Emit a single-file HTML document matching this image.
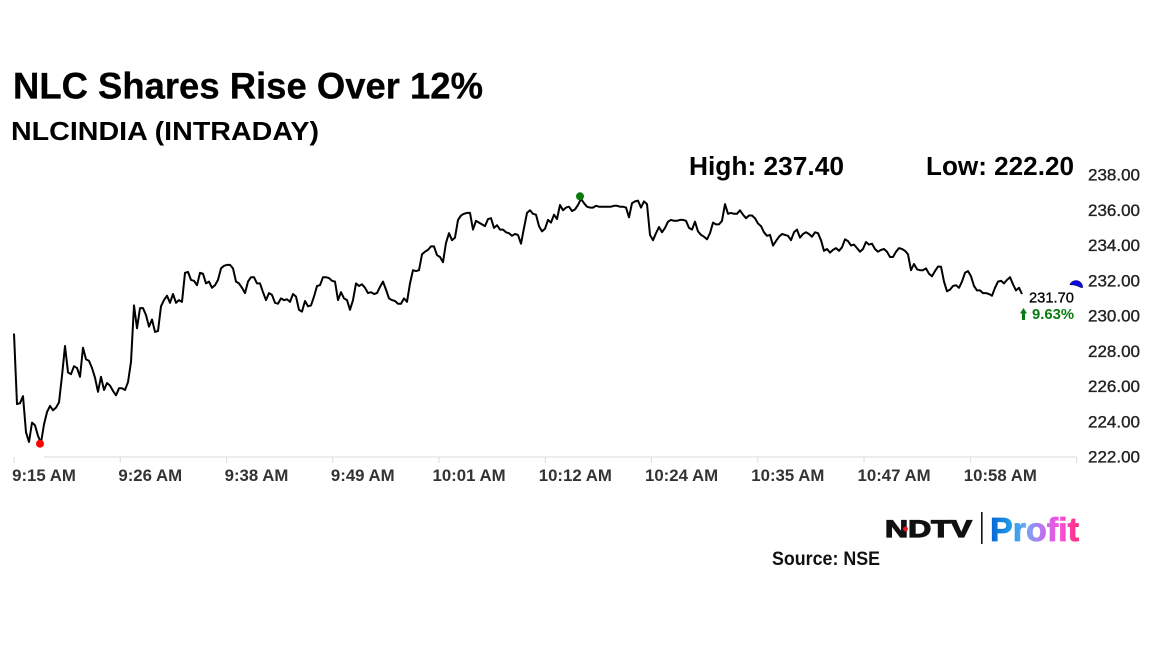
<!DOCTYPE html>
<html lang="en">
<head>
<meta charset="utf-8">
<title>NLC Shares Rise Over 12%</title>
<style>
html,body{margin:0;padding:0;background:#fff;}
body{width:1152px;height:648px;overflow:hidden;}
svg{display:block;font-family:"Liberation Sans",Arial,sans-serif;}
</style>
</head>
<body>
<svg id="chart" xmlns="http://www.w3.org/2000/svg" width="1152" height="648" viewBox="0 0 1152 648">
  <defs>
    <linearGradient id="profitGrad" gradientUnits="userSpaceOnUse" x1="991" y1="0" x2="1079" y2="0">
      <stop offset="0" stop-color="#0a66d6"/>
      <stop offset="0.22" stop-color="#1c9be8"/>
      <stop offset="0.4" stop-color="#6fa8f5"/>
      <stop offset="0.6" stop-color="#c46cf0"/>
      <stop offset="0.8" stop-color="#f84fd8"/>
      <stop offset="1" stop-color="#ff2a78"/>
    </linearGradient>
  </defs>
  <rect x="0" y="0" width="1152" height="648" fill="#fff"/>
  <text x="13" y="98.5" font-size="37.5" font-weight="700" fill="#000" stroke="#000" stroke-width="0.3" textLength="470" lengthAdjust="spacingAndGlyphs">NLC Shares Rise Over 12%</text>
  <text x="11" y="140" font-size="26" font-weight="700" fill="#000" textLength="308" lengthAdjust="spacingAndGlyphs">NLCINDIA (INTRADAY)</text>
  <text x="689" y="175" font-size="25.5" font-weight="700" fill="#000" textLength="155" lengthAdjust="spacingAndGlyphs">High: 237.40</text>
  <text x="926" y="175" font-size="25.5" font-weight="700" fill="#000" textLength="148" lengthAdjust="spacingAndGlyphs">Low: 222.20</text>
  <g id="x-axis"></g>
  <g id="y-axis"></g>
  <g id="series"></g>
  <text x="1074" y="302.5" font-size="14.5" text-anchor="end" fill="#000" stroke="#000" stroke-width="0.3" textLength="45" lengthAdjust="spacingAndGlyphs">231.70</text>
  <text x="1074" y="319" font-size="14.5" font-weight="700" text-anchor="end" fill="#0b7a12" textLength="42" lengthAdjust="spacingAndGlyphs">9.63%</text>
  <path d="M1023.5 308 L1027 313.5 L1025 313.5 L1025 320 L1022 320 L1022 313.5 L1020 313.5 Z" fill="#0b7a12"/>
  <text x="772" y="565" font-size="19" font-weight="700" fill="#111" textLength="108" lengthAdjust="spacingAndGlyphs">Source: NSE</text>
  <g>
    <text x="885" y="537" font-size="24" font-weight="700" fill="#111" stroke="#111" stroke-width="1.2" textLength="87" lengthAdjust="spacingAndGlyphs">NDTV</text>
    <circle cx="905.5" cy="529" r="2.4" fill="#e8141c"/>
    <rect x="981" y="512" width="1.6" height="32" fill="#111"/>
    <text x="990" y="541" font-size="33.5" font-weight="700" fill="url(#profitGrad)" stroke="url(#profitGrad)" stroke-width="0.8" textLength="89" lengthAdjust="spacingAndGlyphs">Profit</text>
  </g>
</svg>
<script>
const timeLabels = ["9:15 AM","9:26 AM","9:38 AM","9:49 AM","10:01 AM","10:12 AM","10:24 AM","10:35 AM","10:47 AM","10:58 AM"];
const priceTicks = [222,224,226,228,230,232,234,236,238];
const currentPrice = 231.75;
const prices = [
229.0,225.0,225.05,225.45,223.4,222.85,223.95,223.8,223.2,222.8,223.85,224.55,224.9,224.65,224.8,225.1,226.6,228.3,226.8,226.7,
227.15,227.05,226.55,228.2,227.55,227.45,227.05,226.5,225.7,226.55,225.8,226.2,226.05,225.75,225.5,225.9,225.9,225.8,226.25,227.4,
230.6,229.3,230.45,230.45,230.05,229.4,229.8,229.1,229.15,230.55,230.9,231.15,230.75,231.25,230.75,230.9,230.8,232.45,232.5,232.05,
232.0,231.75,232.45,232.4,231.85,231.95,231.6,231.75,232.05,232.7,232.85,232.9,232.9,232.7,231.95,231.85,231.6,231.3,231.95,232.2,
232.2,231.85,231.85,231.35,230.9,231.3,231.2,230.75,230.7,231.0,230.9,230.95,230.8,231.25,231.1,230.35,230.25,230.85,230.55,230.6,
231.1,231.7,231.75,232.2,232.2,232.15,232.0,231.95,230.9,231.35,231.0,230.9,230.35,230.9,231.85,231.7,231.8,231.6,231.3,231.35,
231.25,231.3,231.65,231.95,231.5,231.0,230.9,230.85,230.7,230.7,231.0,230.8,231.85,232.6,232.55,232.6,233.5,233.65,233.75,233.95,
233.95,233.45,233.35,233.05,234.15,234.7,234.3,234.45,235.45,235.7,235.8,235.85,235.85,234.9,235.4,235.3,235.2,235.1,235.5,235.55,
235.0,235.15,234.9,234.9,234.75,234.7,234.55,234.65,234.6,234.1,235.0,235.85,236.0,235.8,235.75,235.1,234.8,234.95,235.45,235.3,
235.75,235.5,236.3,236.0,236.15,236.2,235.95,236.05,236.3,236.65,236.4,236.2,236.15,236.15,236.25,236.2,236.2,236.2,236.2,236.2,
236.25,236.25,236.2,236.2,236.15,235.6,236.4,236.5,236.55,236.15,236.5,236.35,234.6,234.3,234.7,235.05,234.75,235.0,235.35,235.45,
235.4,235.4,235.45,235.45,235.4,235.0,234.9,235.35,234.8,234.6,234.5,234.35,234.7,235.3,235.2,235.2,235.4,236.35,235.8,235.85,
235.8,235.8,236.0,235.75,235.55,235.7,235.7,235.55,235.25,235.1,234.75,234.55,234.6,234.0,234.25,234.5,234.65,234.6,234.55,234.3,
234.75,234.9,234.45,234.65,234.75,234.65,234.5,234.75,234.7,234.3,233.7,233.8,233.6,233.75,233.85,233.7,233.9,234.35,234.25,234.0,
234.05,233.85,233.65,233.8,234.2,234.05,234.1,233.8,233.65,233.75,233.8,233.65,233.35,233.35,233.65,233.85,233.8,233.7,233.5,232.6,
232.95,232.65,232.6,232.6,232.7,232.4,232.25,232.55,232.8,232.8,231.95,231.4,231.5,231.7,231.75,231.6,231.95,232.45,232.55,232.25,
231.7,231.45,231.45,231.3,231.3,231.25,231.15,231.6,231.95,232.0,231.85,232.05,232.2,231.8,231.45,231.6,231.25
];

const SVGNS = "http://www.w3.org/2000/svg";
const plotLeft = 14, sampleStepPx = 3, samplesPerTick = 35.42;
const axisY = 457, axisTop = 175, axisStart = 44, axisEnd = 1077;
const domainMin = priceTicks[0], domainMax = priceTicks[priceTicks.length - 1];

function xScale(i) { return plotLeft + i * sampleStepPx; }
function yScale(v) { return axisY - (v - domainMin) / (domainMax - domainMin) * (axisY - axisTop); }
function make(tag, parent) {
  const el = document.createElementNS(SVGNS, tag);
  parent.appendChild(el);
  return el;
}

const xAxis = document.getElementById("x-axis");
const yAxis = document.getElementById("y-axis");
const series = document.getElementById("series");

const axisLine = make("line", xAxis);


axisLine.setAttribute("x1", axisStart);
axisLine.setAttribute("x2", axisEnd);
axisLine.setAttribute("y1", axisY);
axisLine.setAttribute("y2", axisY);
axisLine.setAttribute("stroke", "#e2e2e2");
axisLine.setAttribute("stroke-width", "1.2");

for (let k = 0; k <= timeLabels.length; k++) {
  const tx = xScale(k * samplesPerTick);
  const tick = make("line", xAxis);
  
  
  tick.setAttribute("x1", tx);
  tick.setAttribute("x2", tx);
  tick.setAttribute("y1", axisY);
  tick.setAttribute("y2", axisY + 6);
  tick.setAttribute("stroke", "#dcdcdc");
  tick.setAttribute("stroke-width", "1");
  if (k < timeLabels.length) {
    const label = make("text", xAxis);
    
    
    label.setAttribute("x", tx + 30);
    label.setAttribute("y", axisY + 24);
    label.setAttribute("text-anchor", "middle");
    label.setAttribute("font-size", "16.8");
    label.setAttribute("font-weight", "700");
    label.setAttribute("fill", "#333");
    label.textContent = timeLabels[k];
  }
}

priceTicks.forEach(function (v) {
  const label = make("text", yAxis);
  
  
  label.setAttribute("x", 1088);
  label.setAttribute("y", yScale(v) + 5.5);
  label.setAttribute("font-size", "16.5");
  label.setAttribute("fill", "#222");
  label.setAttribute("stroke", "#222");
  label.setAttribute("stroke-width", "0.35");
  label.setAttribute("textLength", "52");
  label.setAttribute("lengthAdjust", "spacingAndGlyphs");
  label.textContent = v.toFixed(2);
});

const linePath = make("path", series);


linePath.setAttribute("d", prices.map(function (p, i) {
  return (i ? "L" : "M") + xScale(i).toFixed(1) + " " + yScale(p).toFixed(1);
}).join(" "));
linePath.setAttribute("fill", "none");
linePath.setAttribute("stroke", "#000");
linePath.setAttribute("stroke-width", "2");
linePath.setAttribute("stroke-linejoin", "round");

let lowIndex = 0, highIndex = 0;
prices.forEach(function (p, i) {
  if (p < prices[lowIndex]) lowIndex = i;
  if (p > prices[highIndex]) highIndex = i;
});

const lowDot = make("circle", series);


lowDot.setAttribute("cx", xScale(lowIndex) - 1);
lowDot.setAttribute("cy", yScale(prices[lowIndex]) + 0.8);
lowDot.setAttribute("r", "4");
lowDot.setAttribute("fill", "#f00");

const highDot = make("circle", series);


highDot.setAttribute("cx", xScale(highIndex) - 1);
highDot.setAttribute("cy", yScale(prices[highIndex]) - 2.5);
highDot.setAttribute("r", "4");
highDot.setAttribute("fill", "#0a7a0a");

const cy = yScale(currentPrice);
const currentMark = make("path", series);


currentMark.setAttribute("d", "M" + (axisEnd - 7) + " " + (cy - 0.5) + " A6.5 6.5 0 0 1 " + (axisEnd + 5.5) + " " + (cy + 2.5) + " L" + (axisEnd + 3) + " " + (cy + 2) + " Q" + (axisEnd - 1) + " " + (cy - 0.5) + " " + (axisEnd - 7) + " " + (cy - 0.5) + " Z");
currentMark.setAttribute("fill", "#0808e8");
currentMark.setAttribute("stroke", "#00006a");
currentMark.setAttribute("stroke-width", "0.6");
</script>
</body>
</html>
